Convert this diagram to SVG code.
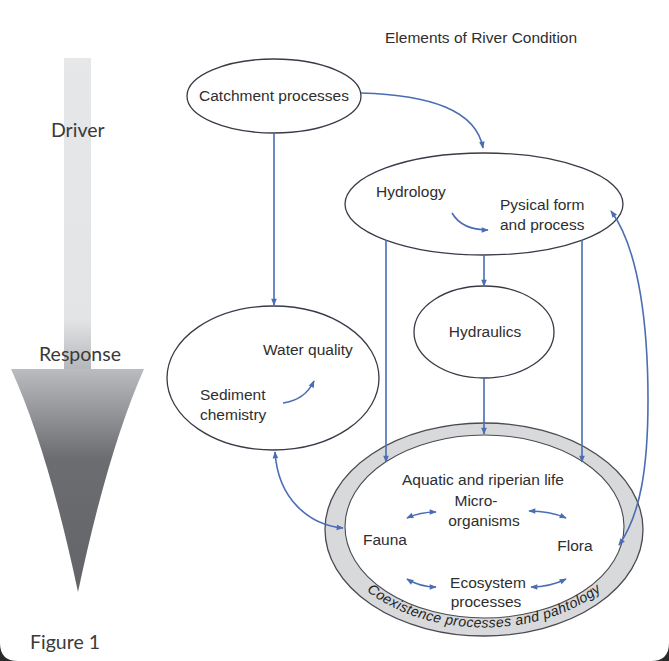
<svg xmlns="http://www.w3.org/2000/svg" width="669" height="661" viewBox="0 0 669 661">
  <defs>
    <style>
      .node { fill: #ffffff; stroke: #3a3a48; stroke-width: 1.3; }
      .lbl { font-family: "Liberation Sans", Arial, sans-serif; font-size: 15.5px; fill: #2e2e2e; }
      .side { font-family: "Lato", "Liberation Sans", sans-serif; font-size: 19.5px; fill: #3a3a3a; }
      .ring { font-family: "Liberation Sans", Arial, sans-serif; font-style: italic; font-size: 14px; letter-spacing: 0.4px; fill: #222222; }
      .con { fill: none; stroke: #4a6db3; stroke-width: 1.6; }
      .one { marker-end: url(#ah); }
      .two { marker-start: url(#ah); marker-end: url(#ah); }
    </style>
    <marker id="ah" viewBox="0 0 10 10" refX="9" refY="5" markerWidth="9" markerHeight="7" markerUnits="userSpaceOnUse" orient="auto-start-reverse">
      <path d="M0,1 L10,5 L0,9 z" fill="#4a6db3"/>
    </marker>
    <linearGradient id="barg" x1="0" y1="58" x2="0" y2="369" gradientUnits="userSpaceOnUse">
      <stop offset="0" stop-color="#e6e7e9"/>
      <stop offset="0.84" stop-color="#e3e4e6"/>
      <stop offset="1" stop-color="#b6b7ba"/>
    </linearGradient>
    <linearGradient id="trig" x1="0" y1="369" x2="0" y2="592" gradientUnits="userSpaceOnUse">
      <stop offset="0" stop-color="#bbbcbf"/>
      <stop offset="0.4" stop-color="#6c6d71"/>
      <stop offset="1" stop-color="#636468"/>
    </linearGradient>
    <path id="ringpath" d="M333,528 A151,99.5 0 0 0 635,528"/>
  </defs>

  <rect x="0" y="0" width="669" height="661" fill="#2a2a2a"/>
  <path d="M0,0 H669 V643 Q669,661 651,661 H18 Q0,661 0,643 Z" fill="#ffffff"/>

  <g id="driver-response">
    <rect x="64" y="58" width="27" height="311" fill="url(#barg)"/>
    <path d="M11,369 H144 Q108,450 78,592 Q48,450 11,369 Z" fill="url(#trig)"/>
    <text class="side" x="51" y="137">Driver</text>
    <text class="side" x="39" y="361">Response</text>
    <text class="side" x="30" y="649">Figure 1</text>
  </g>

  <text id="title" class="lbl" x="385" y="43" font-size="15px">Elements of River Condition</text>

  <g id="catchment">
    <ellipse class="node" cx="274" cy="96" rx="87" ry="37"/>
    <text class="lbl" x="274" y="101" text-anchor="middle">Catchment processes</text>
  </g>

  <g id="hydrology">
    <ellipse class="node" cx="484" cy="204" rx="139" ry="51"/>
    <text class="lbl" x="376" y="197">Hydrology</text>
    <text class="lbl" x="500" y="210">Pysical form</text>
    <text class="lbl" x="500" y="230">and process</text>
  </g>

  <g id="hydraulics">
    <ellipse class="node" cx="484" cy="332" rx="70" ry="46"/>
    <text class="lbl" x="485" y="337" text-anchor="middle">Hydraulics</text>
  </g>

  <g id="water-quality">
    <ellipse class="node" cx="273" cy="378" rx="106" ry="72"/>
    <text class="lbl" x="263" y="355">Water quality</text>
    <text class="lbl" x="200" y="400">Sediment</text>
    <text class="lbl" x="200" y="420">chemistry</text>
  </g>

  <g id="aquatic-life">
    <ellipse cx="484" cy="529.5" rx="159" ry="106.5" fill="#d8d9db" stroke="#4a4a52" stroke-width="1.3"/>
    <ellipse cx="484.5" cy="526.5" rx="139.5" ry="91.5" fill="#ffffff" stroke="#4a4a52" stroke-width="1.1"/>
    <text class="ring"><textPath href="#ringpath" startOffset="73.5">Coexistence</textPath></text>
    <text class="ring"><textPath href="#ringpath" startOffset="159.2">processes</textPath></text>
    <text class="ring"><textPath href="#ringpath" startOffset="230.9">and</textPath></text>
    <text class="ring"><textPath href="#ringpath" startOffset="259.8">pahtology</textPath></text>
    <text class="lbl" x="483" y="485" text-anchor="middle">Aquatic and riperian life</text>
    <text class="lbl" x="476" y="506" text-anchor="middle">Micro-</text>
    <text class="lbl" x="484" y="526" text-anchor="middle">organisms</text>
    <text class="lbl" x="385" y="545" text-anchor="middle">Fauna</text>
    <text class="lbl" x="575" y="551" text-anchor="middle">Flora</text>
    <text class="lbl" x="488" y="588" text-anchor="middle">Ecosystem</text>
    <text class="lbl" x="486" y="607" text-anchor="middle">processes</text>
  </g>

  <g id="connectors">
    <path class="con one" d="M361,93 C430,95 476,110 483,148"/>
    <path class="con one" d="M274,133 V305"/>
    <path class="con one" d="M484,255 V286"/>
    <path class="con one" d="M484,378 V434"/>
    <path class="con one" d="M386,240 V462"/>
    <path class="con one" d="M582,240 V462"/>
    <path class="con two" d="M611,211 C640,250 648,330 648,400 C648,470 640,515 619,545"/>
    <path class="con two" d="M275,452 C278,500 310,525 343,528"/>
    <path class="con one" d="M452,213 Q462,230 488,230"/>
    <path class="con one" d="M283,403 Q305,400 314,381"/>
    <path class="con two" d="M407,518 Q420,512 436,512"/>
    <path class="con two" d="M529,511 Q550,511 566,518"/>
    <path class="con two" d="M407,579 Q420,587 436,587"/>
    <path class="con two" d="M531,587 Q550,587 566,579"/>
  </g>
</svg>
